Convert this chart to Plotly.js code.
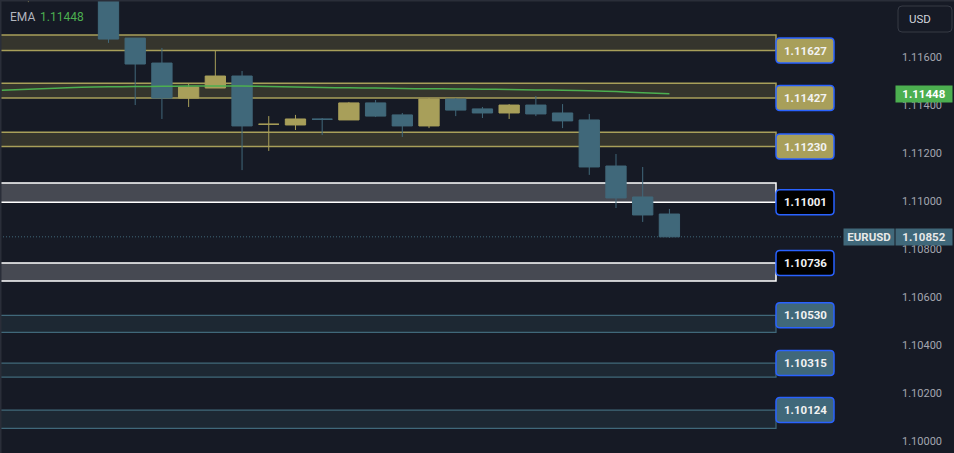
<!DOCTYPE html>
<html>
<head>
<meta charset="utf-8">
<script src="https://cdn.plot.ly/plotly-3.0.1.min.js"></script>
<style>
  html, body { margin: 0; padding: 0; background: #161a25; overflow: hidden; }
  #chart { width: 954px; height: 453px; }
</style>
</head>
<body>
<div id="chart"></div>
<script>
// ---------------- data ----------------
const candleX = [-3, 0, 1, 2, 3, 4, 5, 6, 7, 8, 9, 10, 11, 12, 13, 14, 15, 16, 17, 18, 19, 20, 21];
const candleOpen  = [1.11900, 1.11870, 1.11680, 1.11576, 1.11430, 1.11472, 1.11522, 1.11321, 1.11318, 1.11342, 1.11339, 1.11410, 1.11360, 1.11314, 1.11426, 1.11385, 1.11368, 1.11401, 1.11368, 1.11339, 1.11147, 1.11018, 1.10947];
const candleHigh  = [1.11960, 1.11890, 1.11680, 1.11639, 1.11489, 1.11630, 1.11543, 1.11355, 1.11360, 1.11347, 1.11414, 1.11422, 1.11368, 1.11430, 1.11430, 1.11393, 1.11405, 1.11439, 1.11405, 1.11364, 1.11197, 1.11143, 1.10968];
const candleLow   = [1.11830, 1.11660, 1.11401, 1.11343, 1.11393, 1.11472, 1.11130, 1.11210, 1.11297, 1.11276, 1.11339, 1.11351, 1.11268, 1.11305, 1.11355, 1.11347, 1.11343, 1.11355, 1.11305, 1.11110, 1.10972, 1.10914, 1.10848];
const candleClose = [1.11940, 1.11676, 1.11572, 1.11430, 1.11476, 1.11522, 1.11314, 1.11321, 1.11343, 1.11342, 1.11410, 1.11355, 1.11314, 1.11426, 1.11380, 1.11368, 1.11401, 1.11364, 1.11335, 1.11143, 1.11014, 1.10943, 1.10852];

const emaX = [-4, -3, -2, -1, 0, 1, 2, 3, 4, 5, 6, 7, 8, 9, 10, 11, 12, 13, 14, 15, 16, 17, 18, 19, 20, 21];
const emaY = [1.11463, 1.11467, 1.11471, 1.11475, 1.11477, 1.11478, 1.11479, 1.11480, 1.11480, 1.11480, 1.11478, 1.11476, 1.11474, 1.11473, 1.11472, 1.11470, 1.11469, 1.11468, 1.11467, 1.11466, 1.11464, 1.11463, 1.11461, 1.11457, 1.11452, 1.11448];

const zoneHigh   = [1.11693, 1.11492, 1.11288, 1.11076, 1.10743, 1.10525, 1.10326, 1.10130];
const zoneLow    = [1.11628, 1.11430, 1.11228, 1.10996, 1.10668, 1.10454, 1.10267, 1.10054];
const zoneLabels = ['1.11627', '1.11427', '1.11230', '1.11001', '1.10736', '1.10530', '1.10315', '1.10124'];
const zoneKind   = ['res', 'res', 'res', 'key', 'key', 'sup', 'sup', 'sup'];
const zoneLabelEdge = ['low', 'low', 'low', 'low', 'high', 'high', 'high', 'high'];

const tickVals = [1.10000, 1.10200, 1.10400, 1.10600, 1.10800, 1.11000, 1.11200, 1.11400, 1.11600];
const tickText = ['1.10000', '1.10200', '1.10400', '1.10600', '1.10800', '1.11000', '1.11200', '1.11400', '1.11600'];

const emaName = 'EMA';
const emaLast = '1.11448';
const symbol = 'EURUSD';
const lastPrice = 1.10852;
const lastPriceText = '1.10852';
const emaLastValue = 1.11448;
const currency = 'USD';

// ---------------- styles ----------------
const BG = '#161a25';
const GOLD = '#a89f5a';
const TEAL = '#40687a';
const GREEN = '#4caf50';
const styles = {
  res: { fill: '#35352d', line: GOLD, lw: 1.5, label: GOLD },
  key: { fill: '#464952', line: '#ffffff', lw: 1.5, label: '#000000' },
  sup: { fill: '#1d2833', line: TEAL, lw: 1.2, label: TEAL }
};

const PLOT_W = 880;            // plot area width in px
const ZONE_END = 776 / PLOT_W; // zones end here (paper)
const px = p => p / PLOT_W;

const shapes = [];
const annotations = [];

// zones
zoneHigh.forEach((hi, i) => {
  const st = styles[zoneKind[i]];
  shapes.push({
    type: 'rect', layer: 'below', xref: 'paper', yref: 'y',
    x0: 0, x1: ZONE_END, y0: zoneLow[i], y1: hi,
    fillcolor: st.fill, line: { color: st.line, width: st.lw }
  });
  const yLab = zoneLabelEdge[i] === 'low' ? zoneLow[i] : hi;
  const w = 58, h = 25, r = 4, hh = h / 2;
  shapes.push({
    type: 'path', layer: 'above', xref: 'paper', yref: 'y',
    xsizemode: 'pixel', ysizemode: 'pixel', xanchor: ZONE_END, yanchor: yLab,
    path: `M ${r},${-hh} L ${w - r},${-hh} Q ${w},${-hh} ${w},${-hh + r} L ${w},${hh - r} Q ${w},${hh} ${w - r},${hh} L ${r},${hh} Q 0,${hh} 0,${hh - r} L 0,${-hh + r} Q 0,${-hh} ${r},${-hh} Z`,
    fillcolor: st.label, line: { color: '#2962ff', width: 1.5 }
  });
  annotations.push({
    xref: 'paper', yref: 'y', x: px(805), y: yLab, xanchor: 'center', yanchor: 'middle',
    text: zoneLabels[i], showarrow: false,
    font: { color: '#f2f2f2', size: 11.5, family: 'Roboto', weight: 'bold' }
  });
});

// current price dotted line
shapes.push({
  type: 'line', layer: 'below', xref: 'paper', yref: 'y',
  x0: 0, x1: px(843), y0: lastPrice, y1: lastPrice,
  line: { color: TEAL, width: 1, dash: '1px,2px' }
});

// frame lines (left & top)
shapes.push({ type: 'line', xref: 'paper', yref: 'paper', x0: 0, x1: 0, y0: 0, y1: 1, line: { color: '#2a2e39', width: 3 } });
shapes.push({ type: 'line', xref: 'paper', yref: 'paper', x0: 0, x1: 954 / PLOT_W, y0: 1, y1: 1, line: { color: '#2a2e39', width: 3 } });

// USD box
shapes.push({
  type: 'path', xref: 'paper', yref: 'paper', xsizemode: 'pixel', ysizemode: 'pixel',
  xanchor: px(898), yanchor: 1 - 19 / 453,
  path: 'M 4,-13 L 50,-13 Q 54,-13 54,-9 L 54,9 Q 54,13 50,13 L 4,13 Q 0,13 0,9 L 0,-9 Q 0,-13 4,-13 Z',
  fillcolor: BG, line: { color: '#363a45', width: 1 }
});
annotations.push({
  xref: 'paper', yref: 'paper', x: px(907), y: 1 - 19 / 453, xanchor: 'left', yanchor: 'middle',
  text: currency, showarrow: false, font: { color: '#d1d4dc', size: 11.5 }
});

// EMA legend
annotations.push({
  xref: 'paper', yref: 'paper', x: px(8), y: 1 - 17 / 453, xanchor: 'left', yanchor: 'middle',
  text: emaName, showarrow: false, font: { color: '#b2b5be', size: 12 }
});
annotations.push({
  xref: 'paper', yref: 'paper', x: px(38), y: 1 - 17 / 453, xanchor: 'left', yanchor: 'middle',
  text: emaLast, showarrow: false, font: { color: GREEN, size: 12 }
});

// price tags on axis
annotations.push({
  xref: 'paper', yref: 'y', x: px(895), y: emaLastValue, xanchor: 'left', yanchor: 'middle',
  text: emaLast, showarrow: false, bgcolor: GREEN, width: 56, height: 16, borderpad: 0,
  font: { color: '#ffffff', size: 11.5, weight: 'bold' }
});
annotations.push({
  xref: 'paper', yref: 'y', x: px(843), y: lastPrice, xanchor: 'left', yanchor: 'middle',
  text: symbol, showarrow: false, bgcolor: TEAL, width: 50, height: 16, borderpad: 0,
  font: { color: '#e8e8e8', size: 11.5, weight: 'bold' }
});
annotations.push({
  xref: 'paper', yref: 'y', x: px(895), y: lastPrice, xanchor: 'left', yanchor: 'middle',
  text: lastPriceText, showarrow: false, bgcolor: TEAL, width: 56, height: 16, borderpad: 0,
  font: { color: '#e8e8e8', size: 11.5, weight: 'bold' }
});

const traces = [
  {
    type: 'scatter', mode: 'lines', x: emaX, y: emaY,
    line: { color: GREEN, width: 1.5, shape: 'spline' }, hoverinfo: 'skip', showlegend: false
  },
  {
    type: 'candlestick', x: candleX, open: candleOpen, high: candleHigh, low: candleLow, close: candleClose,
    increasing: { line: { color: GOLD, width: 1 }, fillcolor: GOLD },
    decreasing: { line: { color: TEAL, width: 1 }, fillcolor: TEAL },
    whiskerwidth: 0, showlegend: false, hoverinfo: 'skip'
  }
];

const yTop = 1.1 + 441.3 / 24000;
const yBot = 1.1 - 11.7 / 24000;

const layout = {
  width: 954, height: 453,
  margin: { l: 0, r: 954 - PLOT_W, t: 0, b: 0, pad: 0 },
  paper_bgcolor: BG, plot_bgcolor: BG,
  font: { family: 'Roboto, "Liberation Sans", sans-serif', color: '#b2b5be' },
  showlegend: false, hovermode: false,
  boxgap: 0.24, boxgroupgap: 0,
  xaxis: {
    range: [-4.062, -4.062 + PLOT_W / 26.71], visible: false, showgrid: false, zeroline: false,
    rangeslider: { visible: false }, fixedrange: true
  },
  yaxis: {
    range: [yBot, yTop], side: 'right', showgrid: false, zeroline: false, showline: false,
    tickmode: 'array', tickvals: tickVals, ticktext: tickText, ticks: '',
    ticklabelstandoff: 21, tickfont: { color: '#a3a6af', size: 11 }, fixedrange: true
  },
  shapes: shapes,
  annotations: annotations
};

Plotly.newPlot('chart', traces, layout, { displayModeBar: false, staticPlot: true });
</script>
</body>
</html>
